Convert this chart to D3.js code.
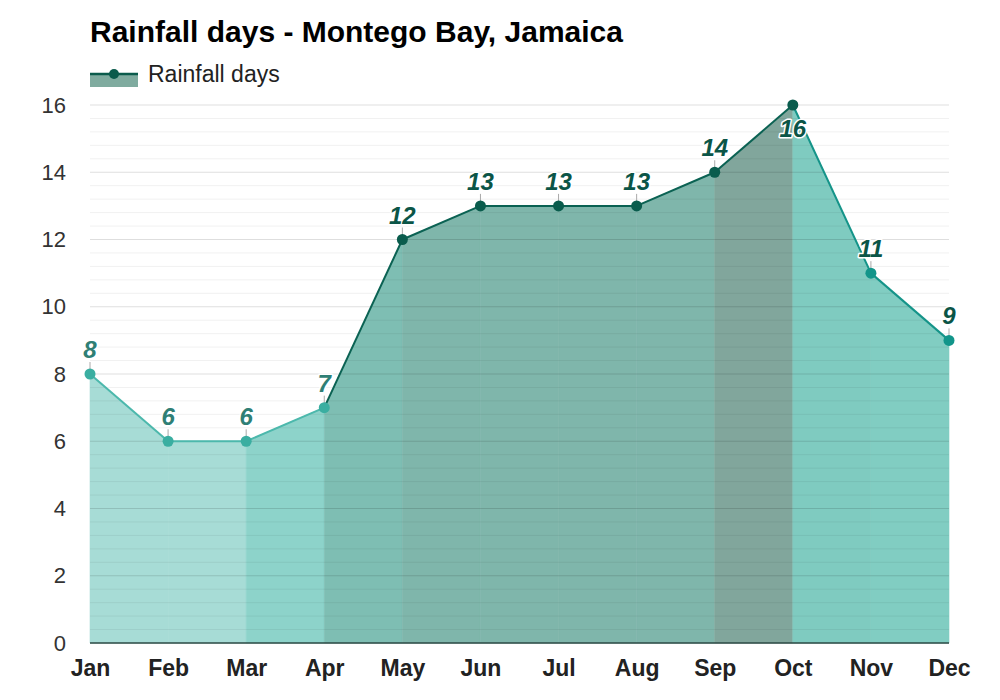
<!DOCTYPE html>
<html>
<head>
  <title>Rainfall days - Montego Bay, Jamaica</title>
  <style>
    body { margin: 0; background: #fff; }
    #chart { width: 1000px; height: 700px; }
    text { font-family: "Liberation Sans", Arial, sans-serif; }
  </style>
</head>
<body>
  <div id="chart"></div>

  <script src="https://d3js.org/d3.v7.min.js"></script>
  <script>
    // data
    const months = ["Jan", "Feb", "Mar", "Apr", "May", "Jun", "Jul", "Aug", "Sep", "Oct", "Nov", "Dec"];
    const rainDays = [8, 6, 6, 7, 12, 13, 13, 13, 14, 16, 11, 9];
    const yTicks = [0, 2, 4, 6, 8, 10, 12, 14, 16];

    // colours per segment (segment i goes from month i to month i+1)
    const segFill = ["#a7dcd6", "#a7dcd6", "#8dd3ca", "#7ebeb3", "#7fb6ab", "#7fb6ab", "#7fb6ab", "#7fb6ab",
                     "#81a69c", "#7fcbc0", "#81cdc2"];
    const segLine = ["#4cb8ac", "#4cb8ac", "#4cb8ac", "#0b6253", "#0b6253", "#0b6253", "#0b6253", "#0b6253",
                     "#0b6253", "#159489", "#159489"];
    const pointColor = ["#3aaea1", "#3aaea1", "#3aaea1", "#3aaea1", "#0a5c4d", "#0a5c4d", "#0a5c4d", "#0a5c4d",
                        "#0a5c4d", "#0a5c4d", "#12958a", "#12958a"];
    const labelColor = ["#2f7f75", "#2f7f75", "#2f7f75", "#2f7f75", "#0b5547", "#0b5547", "#0b5547", "#0b5547",
                        "#0b5547", "#0b5547", "#0b5547", "#0b5547"];

    const width = 1000, height = 700;
    const margin = { left: 90, right: 51, top: 105, bottom: 57 };

    const svg = d3.select("#chart").append("svg")
      .attr("width", width)
      .attr("height", height);

    const x = d3.scalePoint()
      .domain(months)
      .range([margin.left, width - margin.right]);

    const y = d3.scaleLinear()
      .domain([0, 16])
      .range([height - margin.bottom, margin.top]);

    // area segments
    const area = d3.area()
      .x(d => x(d.m))
      .y0(y(0))
      .y1(d => y(d.v));

    const pts = months.map((m, i) => ({ m: m, v: rainDays[i], i: i }));

    svg.append("g").selectAll("path")
      .data(pts.slice(0, -1))
      .join("path")
      .attr("d", d => area([d, pts[d.i + 1]]))
      .attr("fill", d => segFill[d.i])
      .attr("stroke", d => segFill[d.i])
      .attr("stroke-width", 0.6);

    // grid lines (drawn over the fill, semi transparent)
    const minor = d3.range(0, 16.01, 0.4).filter(v => Math.abs(v / 2 - Math.round(v / 2)) > 0.01);
    svg.append("g").selectAll("line")
      .data(minor)
      .join("line")
      .attr("x1", margin.left).attr("x2", width - margin.right)
      .attr("y1", d => y(d)).attr("y2", d => y(d))
      .attr("stroke", "rgba(0,0,0,0.06)")
      .attr("stroke-width", 1);

    svg.append("g").selectAll("line")
      .data(yTicks.filter(d => d > 0))
      .join("line")
      .attr("x1", margin.left).attr("x2", width - margin.right)
      .attr("y1", d => y(d)).attr("y2", d => y(d))
      .attr("stroke", "rgba(0,0,0,0.13)")
      .attr("stroke-width", 1);

    // base line
    svg.append("line")
      .attr("x1", margin.left).attr("x2", width - margin.right)
      .attr("y1", y(0)).attr("y2", y(0))
      .attr("stroke", "#2c4a44")
      .attr("stroke-width", 1.5);

    // y axis
    const yAxis = svg.append("g")
      .attr("transform", `translate(${margin.left - 24},0)`)
      .call(d3.axisLeft(y).tickValues(yTicks).tickSize(0).tickPadding(0));
    yAxis.select(".domain").remove();
    yAxis.selectAll("text")
      .attr("font-size", 22)
      .attr("fill", "#333")
      .attr("font-family", "Liberation Sans, Arial, sans-serif");

    // x axis
    const xAxis = svg.append("g")
      .attr("transform", `translate(0,${y(0) + 17})`)
      .call(d3.axisBottom(x).tickSize(0).tickPadding(0));
    xAxis.select(".domain").remove();
    xAxis.selectAll("text")
      .attr("font-size", 23)
      .attr("font-weight", "bold")
      .attr("fill", "#222")
      .attr("font-family", "Liberation Sans, Arial, sans-serif");

    // line segments
    svg.append("g").selectAll("line")
      .data(pts.slice(0, -1))
      .join("line")
      .attr("x1", d => x(d.m)).attr("y1", d => y(d.v))
      .attr("x2", d => x(pts[d.i + 1].m)).attr("y2", d => y(pts[d.i + 1].v))
      .attr("stroke", d => segLine[d.i])
      .attr("stroke-width", 2);

    // label ticks
    svg.append("g").selectAll("line")
      .data(pts.filter(d => d.i !== 9))
      .join("line")
      .attr("x1", d => x(d.m)).attr("x2", d => x(d.m))
      .attr("y1", d => y(d.v) - 12).attr("y2", d => y(d.v))
      .attr("stroke", "#aaa")
      .attr("stroke-width", 1);

    // points
    svg.append("g").selectAll("circle")
      .data(pts)
      .join("circle")
      .attr("cx", d => x(d.m))
      .attr("cy", d => y(d.v))
      .attr("r", 5.5)
      .attr("fill", d => pointColor[d.i]);

    // value labels
    svg.append("g").selectAll("text")
      .data(pts)
      .join("text")
      .attr("x", d => x(d.m))
      .attr("y", d => d.i === 9 ? y(d.v) + 32 : y(d.v) - 16)
      .attr("text-anchor", "middle")
      .attr("font-size", 24)
      .attr("font-weight", "bold")
      .attr("font-style", "italic")
      .attr("fill", d => labelColor[d.i])
      .attr("stroke", "#fff")
      .attr("stroke-width", 3)
      .attr("stroke-linejoin", "round")
      .attr("paint-order", "stroke")
      .text(d => d.v);

    // title
    svg.append("text")
      .attr("x", margin.left)
      .attr("y", 42)
      .attr("font-size", 30)
      .attr("font-weight", "bold")
      .attr("fill", "#000")
      .text("Rainfall days - Montego Bay, Jamaica");

    // legend
    const lg = svg.append("g");
    lg.append("rect")
      .attr("x", 90).attr("y", 74)
      .attr("width", 48).attr("height", 13)
      .attr("fill", "#7fab9f");
    lg.append("line")
      .attr("x1", 90).attr("x2", 138)
      .attr("y1", 74).attr("y2", 74)
      .attr("stroke", "#0b5b4c")
      .attr("stroke-width", 2.5);
    lg.append("circle")
      .attr("cx", 114).attr("cy", 74)
      .attr("r", 5)
      .attr("fill", "#0b5b4c");
    lg.append("text")
      .attr("x", 148).attr("y", 82)
      .attr("font-size", 23)
      .attr("fill", "#222")
      .text("Rainfall days");
  </script>
</body>
</html>
